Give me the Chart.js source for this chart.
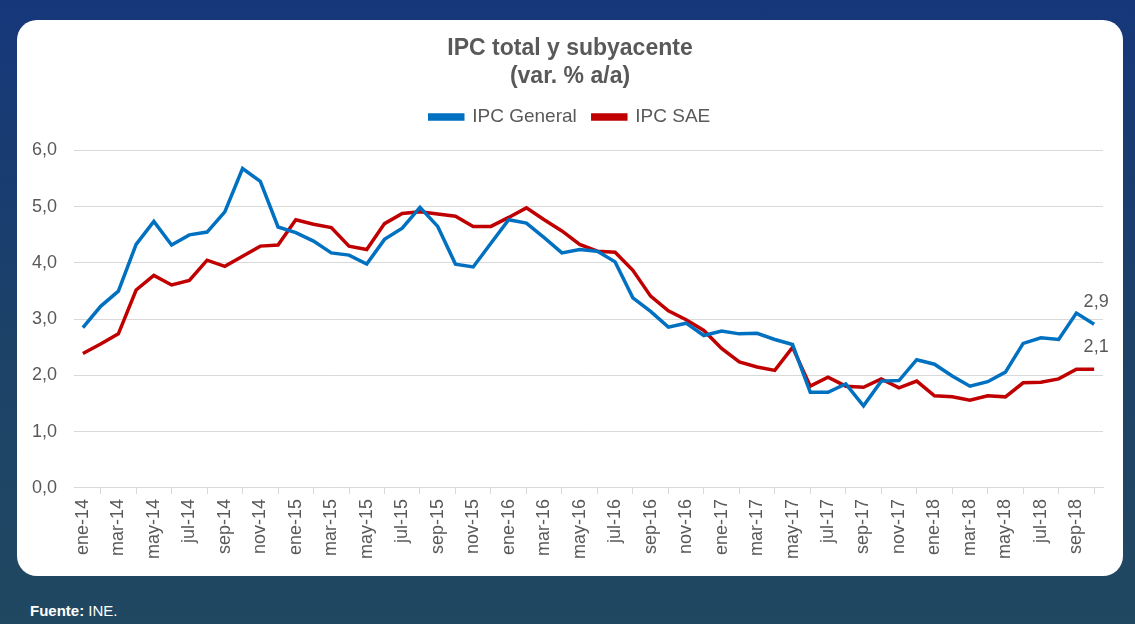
<!DOCTYPE html>
<html lang="es">
<head>
<meta charset="utf-8">
<script src="https://cdn.jsdelivr.net/npm/chart.js@4.4.1/dist/chart.umd.min.js"></script>
<title>IPC total y subyacente</title>
<style>
  html, body { margin: 0; padding: 0; }
  body {
    width: 1135px; height: 624px; overflow: hidden; position: relative;
    background: linear-gradient(180deg, #16377a 0%, #1c4268 55%, #214861 100%);
    font-family: "Liberation Sans", Arial, sans-serif;
  }
  .panel {
    position: absolute; left: 17px; top: 20px; width: 1106px; height: 556px;
    background: #fff; border-radius: 20px;
  }
  .source {
    position: absolute; left: 30px; top: 602px; color: #fff; font-size: 15px;
  }
</style>
</head>
<body>
<div class="panel"><canvas id="myChart" width="1106" height="556"></canvas></div>
<div class="source"><b>Fuente:</b> INE.</div>
<script>
const months = ['ene','feb','mar','abr','may','jun','jul','ago','sep','oct','nov','dic'];
const years = ['14','15','16','17','18'];
const lastMonth = 9; // oct-18

// IPC General, var. % a/a
const ipcGeneral = [
  2.85, 3.23, 3.50, 4.33, 4.74, 4.32, 4.50, 4.55, 4.91, 5.68, 5.45, 4.64,
  4.54, 4.39, 4.18, 4.14, 3.98, 4.42, 4.62, 4.99, 4.65, 3.98, 3.93, 4.35,
  4.77, 4.71, 4.45, 4.18, 4.24, 4.21, 4.02, 3.38, 3.14, 2.86, 2.93, 2.71,
  2.79, 2.74, 2.75, 2.64, 2.55, 1.70, 1.70, 1.85, 1.46, 1.90, 1.91, 2.28,
  2.20, 1.99, 1.81, 1.89, 2.06, 2.57, 2.67, 2.64, 3.11, 2.91
];
// IPC SAE (subyacente)
const ipcSAE = [
  2.39, 2.56, 2.74, 3.52, 3.78, 3.61, 3.69, 4.05, 3.94, 4.12, 4.30, 4.32,
  4.77, 4.69, 4.63, 4.30, 4.24, 4.70, 4.88, 4.91, 4.87, 4.83, 4.65, 4.65,
  4.81, 4.98, 4.77, 4.57, 4.33, 4.21, 4.19, 3.87, 3.41, 3.15, 2.99, 2.80,
  2.48, 2.24, 2.15, 2.09, 2.50, 1.81, 1.97, 1.81, 1.79, 1.94, 1.78, 1.90,
  1.64, 1.62, 1.56, 1.64, 1.62, 1.87, 1.88, 1.94, 2.11, 2.11
];

const labels = [];
years.forEach((y, yi) => {
  months.forEach((m, mi) => {
    if (yi === years.length - 1 && mi > lastMonth) return;
    labels.push(m + '-' + y);
  });
});

const fmt = v => v.toFixed(1).replace('.', ',');
const grey = '#595959';

// last value label over each line
const lastLabel = {
  id: 'lastLabel',
  afterDatasetsDraw(chart) {
    const ctx = chart.ctx;
    ctx.save();
    ctx.font = '18px "Liberation Sans", Arial, sans-serif';
    ctx.fillStyle = grey;
    ctx.textAlign = 'center';
    ctx.textBaseline = 'middle';
    chart.data.datasets.forEach((ds, i) => {
      const pts = chart.getDatasetMeta(i).data;
      const p = pts[pts.length - 1];
      ctx.fillText(fmt(ds.data[ds.data.length - 1]), p.x + 2, p.y - 22);
    });
    ctx.restore();
  }
};

// more room under the legend, and title/legend centred on the whole panel
const headerFix = {
  id: 'headerFix',
  beforeInit(chart) {
    const fit = chart.legend.fit;
    chart.legend.fit = function () {
      fit.call(this);
      this.height += 14;
    };
  },
  afterLayout(chart) {
    [chart.titleBlock, chart.legend].forEach(b => {
      if (b) { b.left = 0; b.right = chart.width; }
    });
  }
};

Chart.defaults.font.family = '"Liberation Sans", Arial, sans-serif';
Chart.defaults.color = grey;

new Chart(document.getElementById('myChart'), {
  type: 'line',
  data: {
    labels: labels,
    datasets: [{
      label: 'IPC General',
      data: ipcGeneral,
      borderColor: '#0070c0',
      backgroundColor: '#0070c0',
      borderWidth: 3.5,
      pointRadius: 0,
      tension: 0
    }, {
      label: 'IPC SAE',
      data: ipcSAE,
      borderColor: '#c00000',
      backgroundColor: '#c00000',
      borderWidth: 3.5,
      pointRadius: 0,
      tension: 0
    }]
  },
  plugins: [lastLabel, headerFix],
  options: {
    responsive: false,
    animation: false,
    layout: { padding: { left: -2, right: 20, top: 14, bottom: 12 } },
    plugins: {
      title: {
        display: true,
        text: ['IPC total y subyacente', '(var. % a/a)'],
        font: { size: 23, weight: 'bold', lineHeight: 1.25 },
        color: grey,
        padding: { top: 0, bottom: 0 }
      },
      legend: {
        labels: {
          boxWidth: 33,
          boxHeight: 4,
          font: { size: 19 },
          color: grey,
          padding: 16
        }
      },
      tooltip: { enabled: false }
    },
    scales: {
      x: {
        offset: true,
        grid: { offset: true, drawOnChartArea: false, tickLength: 6, color: '#d9d9d9' },
        border: { color: '#d9d9d9' },
        ticks: {
          autoSkip: false,
          maxRotation: 90,
          minRotation: 90,
          padding: 5,
          font: { size: 18 },
          callback: function (v, i) { return i % 2 === 0 ? this.getLabelForValue(v) : null; }
        }
      },
      y: {
        min: 0,
        max: 6,
        grid: { color: '#d9d9d9', drawTicks: false },
        border: { display: false },
        ticks: { stepSize: 1, padding: 17, font: { size: 18 }, callback: v => fmt(v) }
      }
    }
  }
});
</script>
</body>
</html>
